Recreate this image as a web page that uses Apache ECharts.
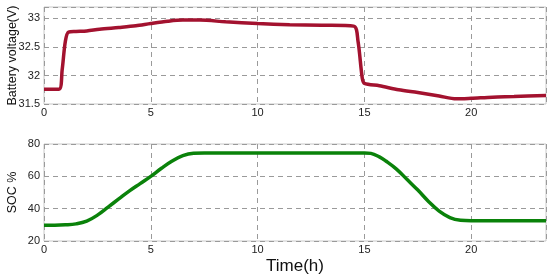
<!DOCTYPE html>
<html lang="en">
<head>
    <meta charset="UTF-8">
    <title>Battery voltage and SOC</title>
    <script src="https://cdn.jsdelivr.net/npm/echarts@6/dist/echarts.min.js"></script>
    <style>
        html, body { margin: 0; padding: 0; background: #ffffff; }
    </style>
</head>
<body>
<div id="chart" style="width: 550px; height: 275px;"></div>
<script>
    // voltage curve (hours, volts)
    var voltTime = [0, 0.7, 0.85, 1.0, 1.15, 1.5, 2.0, 2.6, 3.5, 4.3, 5.0, 5.8, 6.5, 7.3, 8.5, 10, 11.5, 13, 14.5, 14.7, 14.9, 15.0, 15.7, 16.6, 17.5, 18.5, 19.3, 20, 21, 22, 23.5];
    var voltValue = [31.76, 31.76, 32.1, 32.6, 32.76, 32.77, 32.78, 32.81, 32.84, 32.87, 32.91, 32.95, 32.97, 32.97, 32.94, 32.91, 32.89, 32.88, 32.865, 32.6, 31.95, 31.86, 31.82, 31.75, 31.7, 31.64, 31.59, 31.6, 31.62, 31.63, 31.65];

    // state of charge curve (hours, %)
    var socTime = [0, 0.5, 1, 1.5, 2, 2.5, 3, 3.5, 4, 4.5, 5, 5.5, 6, 6.5, 7, 7.5, 15, 15.3, 15.7, 16, 16.5, 17, 17.5, 18, 18.5, 19, 19.5, 20, 23.5];
    var socValue = [29.8, 29.8, 30, 30.6, 32.3, 36, 41, 46, 51, 55.5, 60, 65, 69.5, 72.8, 74.3, 74.5, 74.5, 74.2, 72, 69.5, 64.5, 58, 51.5, 44.5, 38.5, 34.5, 32.8, 32.5, 32.5];

    var xTicks = [0, 5, 10, 15, 20];

    function pairs(xs, ys) {
        var res = [];
        for (var i = 0; i < xs.length; i++) res.push([xs[i], ys[i]]);
        return res;
    }

    var font = 'Liberation Sans, Arial, sans-serif';
    var dashed = { show: true, lineStyle: { color: '#9a9a9a', type: [5, 4], width: 1 } };

    function xAxis(idx, withName) {
        return {
            type: 'value', gridIndex: idx, min: 0, max: 23.5, interval: 5,
            name: withName ? 'Time(h)' : '',
            nameLocation: 'middle', nameGap: 17, nameMoveOverlap: false,
            nameTextStyle: { fontSize: 17, color: '#111', fontFamily: font, verticalAlign: 'top' },
            axisLine: { show: false },
            axisTick: { show: false },
            splitLine: dashed,
            axisLabel: {
                color: '#222', fontSize: 11, fontFamily: font, margin: 3,
                formatter: function (v) { return xTicks.indexOf(v) >= 0 ? String(v) : ''; }
            }
        };
    }

    function yAxis(idx, name, min, max, step, labels) {
        return {
            type: 'value', gridIndex: idx, min: min, max: max, interval: step,
            name: name, nameLocation: 'middle', nameGap: 25, nameMoveOverlap: false,
            nameTextStyle: { fontSize: 12.5, color: '#111', fontFamily: font },
            axisLine: { show: false },
            axisTick: { show: false },
            splitLine: dashed,
            axisLabel: {
                color: '#222', fontSize: 11, fontFamily: font, margin: 4,
                formatter: function (v) { return labels.indexOf(v) >= 0 ? String(v) : ''; }
            }
        };
    }

    var chart = echarts.init(document.getElementById('chart'));
    chart.setOption({
        backgroundColor: '#ffffff',
        animation: false,
        grid: [
            { left: 44, top: 7, width: 502, height: 97, show: true, borderColor: '#c8c8c8', borderWidth: 1, containLabel: false, outerBoundsMode: 'none' },
            { left: 44, top: 144, width: 502, height: 97, show: true, borderColor: '#c8c8c8', borderWidth: 1, containLabel: false, outerBoundsMode: 'none' }
        ],
        xAxis: [xAxis(0, false), xAxis(1, true)],
        yAxis: [
            yAxis(0, 'Battery voltage(V)', 31.5, 33.2, 0.5, [31.5, 32, 32.5, 33]),
            yAxis(1, 'SOC %', 20, 80, 20, [20, 40, 60, 80])
        ],
        series: [{
            type: 'line', xAxisIndex: 0, yAxisIndex: 0,
            showSymbol: false, smooth: 0.3,
            lineStyle: { color: '#a3122f', width: 3.5 },
            data: pairs(voltTime, voltValue)
        }, {
            type: 'line', xAxisIndex: 1, yAxisIndex: 1,
            showSymbol: false, smooth: 0.4,
            lineStyle: { color: '#0a820a', width: 3.5 },
            data: pairs(socTime, socValue)
        }]
    });
</script>
</body>
</html>
